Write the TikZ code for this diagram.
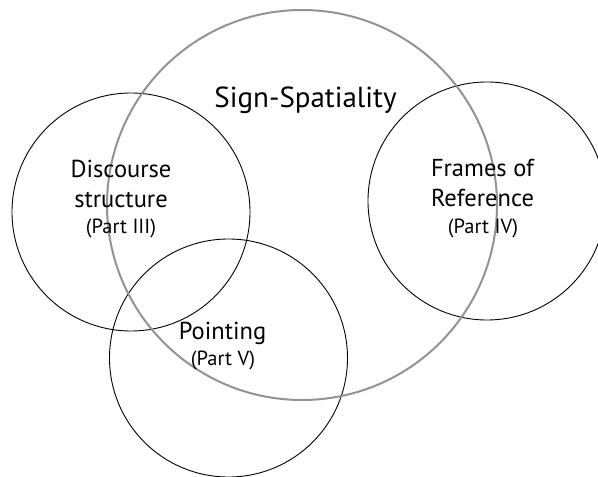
\documentclass[tikz,border=0pt]{standalone}
\usepackage{fontspec}
\setmainfont{PT Sans}
\begin{document}
\begin{tikzpicture}[x=1pt,y=-1pt,
  ring/.style={circle,draw=black,line width=0.9pt,minimum size=238pt,inner sep=0pt},
  bigring/.style={circle,draw=gray!85!white,line width=2pt,minimum size=390pt,inner sep=0pt},
  big/.style={anchor=base,font=\fontsize{29}{29}\selectfont,inner sep=0pt},
  mid/.style={anchor=base,font=\fontsize{24.5}{24.5}\selectfont,inner sep=0pt},
  small/.style={anchor=base,font=\fontsize{20.5}{20.5}\selectfont,inner sep=0pt}]
\useasboundingbox (0,0) rectangle (598,477);
\clip (0,0) rectangle (598,477);
\fill[white] (0,0) rectangle (598,477);
\node[ring] (disc) at (131,212) {};
\node[ring] (frames) at (487,201) {};
\node[ring] (point) at (228.5,358) {};
\node[bigring] (sign) at (302,205) {};
\node[big] (tsign) at (305.5,107) {Sign-Spatiality};
\node[mid] (td1) at (121,177) {Discourse};
\node[mid] (td2) at (121,207) {structure};
\node[small] (td3) at (121,233) {(Part III)};
\node[mid] (tf1) at (482.5,176) {Frames of};
\node[mid] (tf2) at (482.5,206) {Reference};
\node[small] (tf3) at (483,233) {(Part IV)};
\node[mid] (tp1) at (222.5,339) {Pointing};
\node[small] (tp2) at (223,365) {(Part V)};
\end{tikzpicture}
\end{document}
